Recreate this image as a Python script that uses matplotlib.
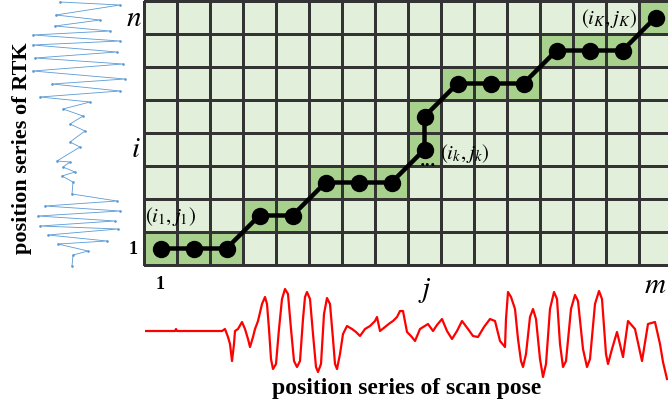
import numpy as np
import matplotlib
matplotlib.use('Agg')
import matplotlib.pyplot as plt
from matplotlib.colors import ListedColormap

plt.rcParams['font.family'] = ['Liberation Serif', 'DejaVu Serif']
plt.rcParams['mathtext.fontset'] = 'stix'

# Warping path (column j, row i) on the 16 x 8 grid
path_cols = [1, 2, 3, 4, 5, 6, 7, 8, 9, 9, 10, 11, 12, 13, 14, 15, 16]
path_rows = [1, 1, 1, 2, 2, 3, 3, 3, 4, 5, 6, 6, 6, 7, 7, 7, 8]
n_cols, n_rows = 16, 8

# RTK position series (vertical, time goes downward)
rtk_t = [3, 6, 16, 21, 27, 32, 36, 42, 46, 53, 59, 65, 72, 80, 85, 92, 98, 103,
         110, 117, 125, 132, 143, 148, 162, 163, 168, 173, 177, 183, 195, 202,
         207, 212, 217, 222, 227, 230, 236, 242, 245, 252, 256, 267]
rtk_pos = [-18, 42, -22, 22, -23, 32, -45, 42, -45, 39, -43, 45, -45, 47, -26, 42,
           -38, 12, -15, 5, -8, 7, -8, 2, -21, -8, -15, -3, -16, -5, -6, 39,
           -33, 42, -40, 37, -38, 40, -30, 29, -20, 10, -5, -6]

# scan pose position series (horizontal)
scan_t = [0, 30, 31, 32, 77, 80, 83, 85, 87, 89, 90, 93, 97, 100, 103, 105, 108,
          110, 113, 117, 120, 122, 124, 126, 128, 131, 134, 137, 140, 143, 146,
          149, 152, 155, 158, 160, 162, 165, 168, 171, 173, 176, 179, 182, 185,
          188, 190, 192, 195, 198, 202, 207, 211, 215, 220, 225, 230, 232, 235,
          240, 245, 248, 252, 255, 258, 262, 266, 270, 275, 283, 288, 292, 297,
          302, 307, 312, 317, 323, 328, 333, 339, 345, 350, 355, 360, 361, 363,
          366, 370, 373, 376, 378, 381, 385, 388, 391, 395, 398, 401, 405, 409,
          412, 415, 418, 421, 426, 430, 433, 438, 442, 445, 450, 454, 457, 461,
          463, 467, 472, 478, 483, 490, 497, 503, 510, 515, 518, 522]
scan_pos = [0, 0, 2, 0, 0, 2, -6, -13, -30, -13, 0, 2, 9, 2, -8, -16, -6,
            2, 10, 27, 34, 27, 2, -28, -38, -33, 2, 32, 42, 37, 2,
            -30, -36, -30, 12, 34, 39, 32, -3, -36, -41, -33, 17, 33, 27,
            -8, -33, -38, -23, -3, 5, 2, -1, -5, 2, 5, 10, 14, 0,
            4, 8, 10, 14, 20, 20, -1, -5, -10, 2, 7, 0, 6, 12,
            0, -8, 0, 10, 2, -5, -6, 4, 12, 10, -10, -16, 12, 39,
            34, 22, -8, -30, -36, -23, 14, 22, 12, -28, -46, -33, 22, 39,
            32, -13, -36, -30, 22, 36, 30, -18, -36, -28, 27, 40, 32, -23,
            -33, -18, -1, -26, 10, 2, -30, 7, 9, -13, -31, -48]

W, H = 668, 406
fig = plt.figure(figsize=(W / 100, H / 100), dpi=100)

# ---- grid -----------------------------------------------------------------
gx0, gy0, gy1, cell = 144, 2, 266, 33.0
ax = fig.add_axes([gx0 / W, (H - gy1) / H, (W - gx0) / W, (gy1 - gy0) / H])
mask = np.zeros((n_rows, n_cols))
for c, r in zip(path_cols, path_rows):
    mask[r - 1, c - 1] = 1
cmap = ListedColormap(['#e2efda', '#a9d18e'])
mesh = ax.pcolormesh(np.arange(n_cols + 1) + 0.5, np.arange(n_rows + 1) + 0.5, mask,
                     cmap=cmap, vmin=0, vmax=1, edgecolors='#333333', linewidth=0.8)
mesh.set_clip_on(False)
ax.plot(path_cols, path_rows, '-o', color='black', lw=3.2, ms=11.5, clip_on=False, zorder=3)
ax.set_xlim(0.5, 0.5 + (W - gx0) / cell)
ax.set_ylim(0.5, n_rows + 0.5)
ax.axis('off')

# labels on the grid
ax.text(0.42, 8, '$n$', fontsize=21, ha='right', va='center')
ax.text(0.4, 4, '$i$', fontsize=21, ha='right', va='center')
ax.text(0.3, 1, '1', fontsize=13, fontweight='bold', ha='right', va='center')
ax.text(1, 0.2, '1', fontsize=13, fontweight='bold', ha='center', va='top', clip_on=False)
ax.text(9, 0.2, '$j$', fontsize=21, ha='center', va='top', clip_on=False)
ax.text(16, 0.3, '$m$', fontsize=21, ha='center', va='top', clip_on=False)
ax.text(0.52, 2.0, '$(i_1,j_1)$', fontsize=15, ha='left', va='center')
ax.text(9.48, 3.92, '$(i_k,j_k)$', fontsize=15, ha='left', va='center')
ax.text(15.45, 8.0, '$(i_K,j_K)$', fontsize=15, ha='right', va='center')
ax.text(9.12, 3.56, '•••', fontsize=6, fontweight='bold', ha='center', va='center',
        family='DejaVu Sans')

# ---- RTK signal (left) ------------------------------------------------------
ax_l = fig.add_axes([25 / W, (H - 270) / H, 105 / W, 270 / H])
ax_l.plot(rtk_pos, rtk_t, '-', color='#5b9bd5', lw=0.6, marker='.', ms=1.8)
ax_l.set_xlim(-53, 52)
ax_l.set_ylim(270, 0)
ax_l.axis('off')

# ---- scan pose signal (bottom) -------------------------------------------
ax_b = fig.add_axes([145 / W, (H - 392) / H, 523 / W, 110 / H])
ax_b.plot(scan_t, scan_pos, '-', color='#ff0000', lw=1.6)
ax_b.set_xlim(0, 523)
ax_b.set_ylim(-60, 50)
ax_b.axis('off')

fig.text(22 / W, 1 - 148 / H, 'position series of RTK', rotation=90, fontsize=16,
         fontweight='bold', ha='center', va='center')
fig.text(407 / W, 1 - 389 / H, 'position series of scan pose', fontsize=17,
         fontweight='bold', ha='center', va='center')

fig.savefig('out.png', dpi=100)
